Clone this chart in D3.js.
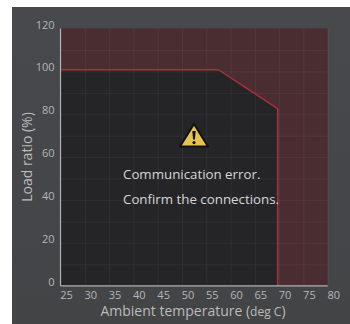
<!DOCTYPE html>
<html>
<head>
<meta charset="utf-8">
<script src="https://cdn.jsdelivr.net/npm/d3@7"></script>
<style>
    html, body { margin: 0; padding: 0; background: #fff; }
    svg { display: block; }
    text { font-family: "Open Sans", "Noto Sans", sans-serif; }
    .axis path { display: none; }
    .grid line { stroke: #fff; stroke-opacity: 0.05; }
    .tick-label text { fill: #b4b6b8; font-size: 11px; }
    .axis-title { fill: #b9bbbd; font-size: 14px; }
    .message { fill: #d6d6d6; font-size: 13.3px; }
</style>
</head>
<body>
<div id="chart"></div>
<script>
// Values
var tempTicks = [25, 30, 35, 40, 45, 50, 55, 60, 65, 70, 75, 80];
var loadTicks = [0, 20, 40, 60, 80, 100, 120];
var loadGrid = [10, 20, 30, 40, 50, 60, 70, 80, 90, 100, 110];
var limitTemp = [25, 57.5, 69.7, 69.7];
var limitLoad = [100.8, 100.8, 82.6, 0];
var messages = ["Communication error.", "Confirm the connections."];

var W = 350, H = 324;

var svg = d3.select("#chart").append("svg")
    .attr("width", W)
    .attr("height", H);

// Card background
var grad = svg.append("defs").append("linearGradient")
    .attr("id", "card")
    .attr("x1", 0).attr("y1", 0).attr("x2", 0).attr("y2", 1);
grad.append("stop").attr("offset", "0%").attr("stop-color", "#47494c");
grad.append("stop").attr("offset", "100%").attr("stop-color", "#434446");

svg.append("rect")
    .attr("x", 12)
    .attr("y", 7)
    .attr("width", W - 12)
    .attr("height", H - 7)
    .attr("fill", "url(#card)");

var margin = { top: 28.5, left: 60.5 };
var width = 267.2, height = 257.3;

var g = svg.append("g")
    .attr("transform", "translate(" + margin.left + "," + margin.top + ")");

// Scales
var x = d3.scaleLinear().domain([25, 80]).range([0, width]);
var y = d3.scaleLinear().domain([0, 120]).range([height, 0]);

// Over limit region
g.append("rect")
    .attr("width", width)
    .attr("height", height)
    .attr("fill", "#4a2d31");

// Safe region under the limit
var limitData = limitTemp.map(function(d, i) {
    return { temp: d, load: limitLoad[i] };
});

var area = d3.area()
    .x(function(d) { return x(d.temp); })
    .y0(y(0))
    .y1(function(d) { return y(d.load); });

g.append("path")
    .datum(limitData)
    .attr("d", area)
    .attr("fill", "#252528");

// Grid
g.append("g")
    .attr("class", "grid axis")
    .attr("transform", "translate(0," + height + ")")
    .call(d3.axisBottom(x).tickValues(tempTicks).tickSize(-height).tickFormat(""));

g.append("g")
    .attr("class", "grid axis")
    .call(d3.axisLeft(y).tickValues(loadGrid).tickSize(-width).tickFormat(""));

// Limit line
var line = d3.line()
    .x(function(d) { return x(d.temp); })
    .y(function(d) { return y(d.load); });

g.append("path")
    .datum(limitData)
    .attr("d", line)
    .attr("fill", "none")
    .attr("stroke", "#ab2f3a")
    .attr("stroke-width", 1.5);

// Axis lines
g.append("line")
    .attr("x1", 0).attr("x2", 0)
    .attr("y1", 0).attr("y2", height)
    .attr("stroke", "#b0b1b3")
    .attr("stroke-width", 1.2);

g.append("line")
    .attr("x1", 0).attr("x2", width)
    .attr("y1", height).attr("y2", height)
    .attr("stroke", "#b0b1b3")
    .attr("stroke-width", 1.2);

// Tick labels sit a little off their lines in the original
var xLabels = g.append("g")
    .attr("class", "tick-label axis")
    .attr("transform", "translate(5.5," + height + ")")
    .call(d3.axisBottom(x).tickValues(tempTicks).tickSize(0).tickPadding(5));

var yLabels = g.append("g")
    .attr("class", "tick-label axis")
    .attr("transform", "translate(-6,-4)")
    .call(d3.axisLeft(y).tickValues(loadTicks).tickSize(0).tickPadding(0));

xLabels.select(".domain").remove();
yLabels.select(".domain").remove();

// Axis titles
var xTitle = svg.append("text")
    .attr("class", "axis-title")
    .attr("x", 193)
    .attr("y", 316)
    .attr("text-anchor", "middle");
xTitle.append("tspan").text("Ambient temperature (");
xTitle.append("tspan").style("font-size", "12px").text("deg C");
xTitle.append("tspan").text(")");

svg.append("text")
    .attr("class", "axis-title")
    .attr("transform", "translate(32,157) rotate(-90)")
    .attr("text-anchor", "middle")
    .text("Load ratio (%)");

// Warning icon
var icon = svg.append("g").attr("transform", "translate(194,136)");
icon.append("path")
    .attr("d", "M0,-12L14,10.5L-14,10.5Z")
    .attr("fill", "#e6c350")
    .attr("stroke", "#111")
    .attr("stroke-width", 2)
    .attr("stroke-linejoin", "round");
icon.append("path")
    .attr("d", "M-1.7,-5L1.7,-5L0.9,3.5L-0.9,3.5Z")
    .attr("fill", "#111");
icon.append("circle")
    .attr("cy", 6.6)
    .attr("r", 1.6)
    .attr("fill", "#111");

// Error text
svg.selectAll(".message")
    .data(messages)
    .enter().append("text")
    .attr("class", "message")
    .attr("x", 123)
    .attr("y", function(d, i) { return 178.5 + i * 25; })
    .text(function(d) { return d; });
</script>
</body>
</html>
